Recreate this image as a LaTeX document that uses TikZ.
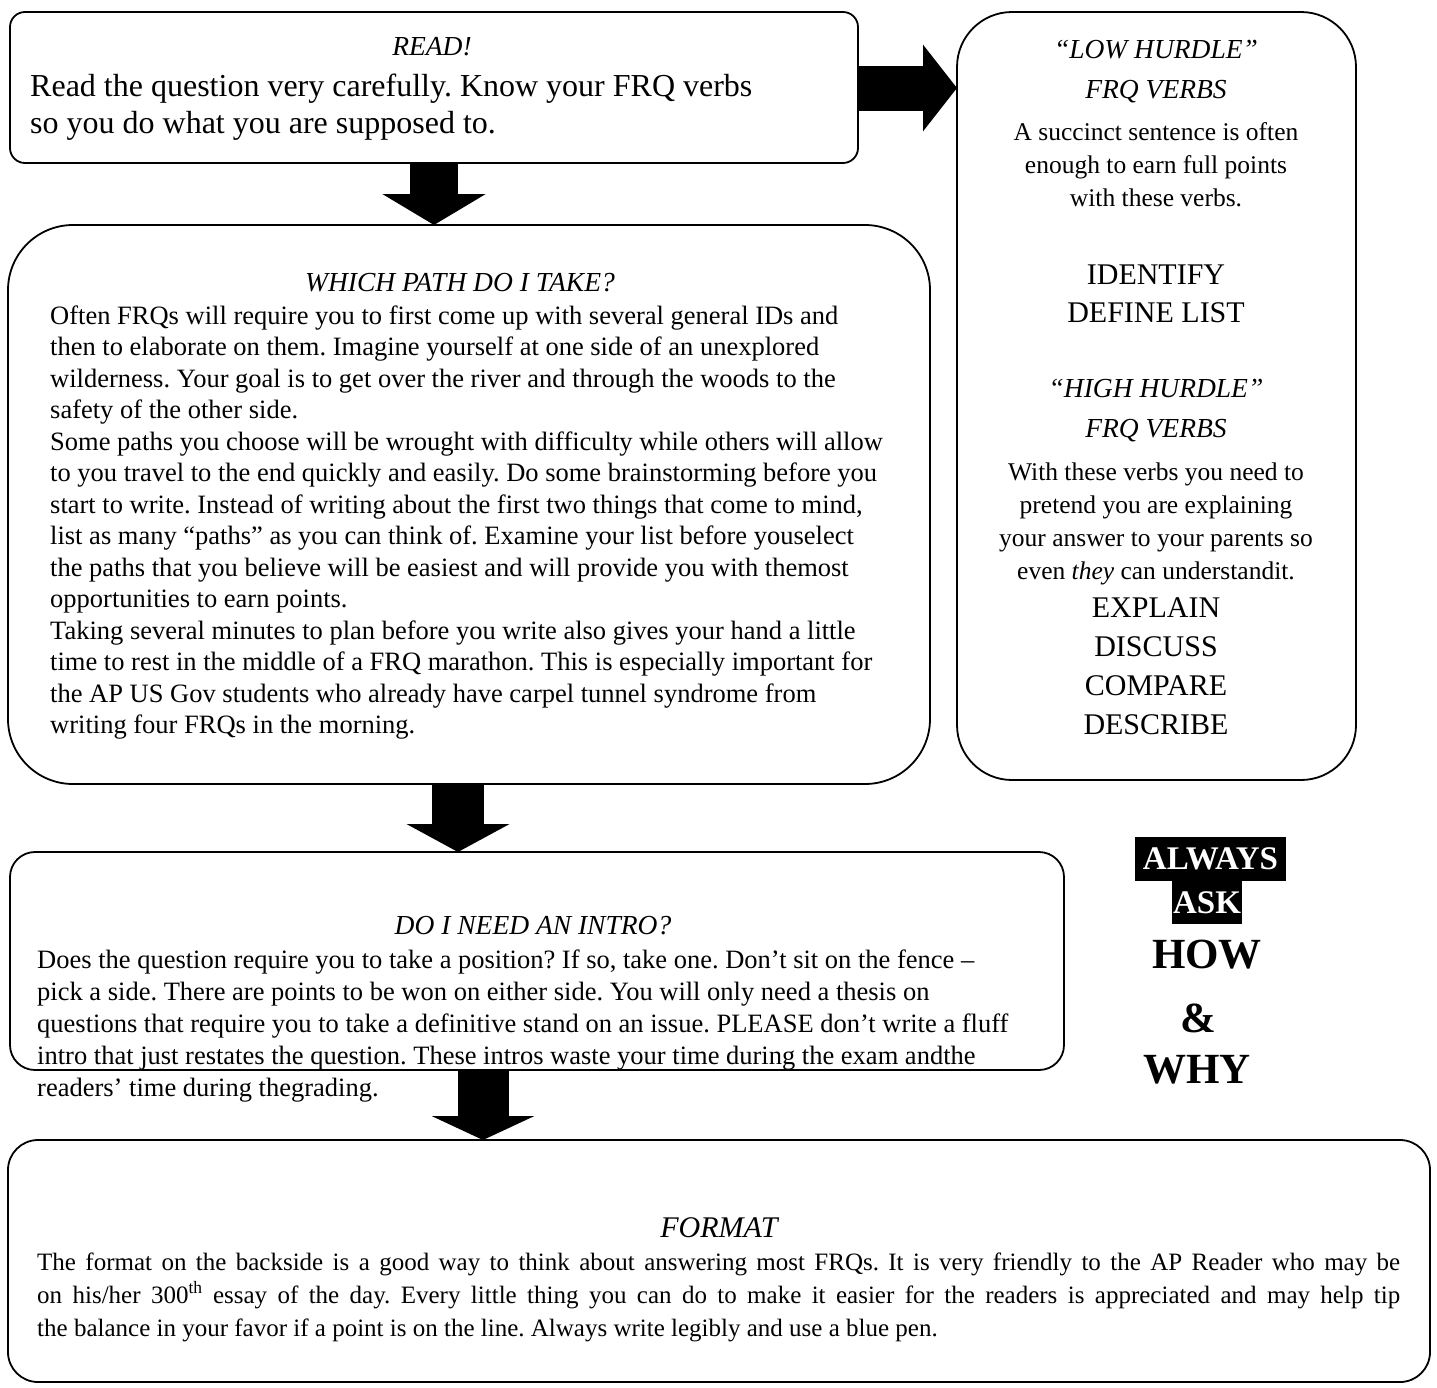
\documentclass[tikz,border=0pt]{standalone}
\usepackage{fontspec}
\setmainfont{Liberation Serif}
\usetikzlibrary{arrows.meta}
\frenchspacing

\tikzset{
  frqbox/.style={draw, line width=1.8pt, rectangle, inner sep=0pt, outer sep=0pt},
  boxtitle/.style={font=\fontsize{27.5}{40}\selectfont\itshape, align=center, inner sep=0pt, anchor=base},
  boxtext/.style={font=\fontsize{26.5}{31.5}\selectfont, align=left, inner sep=0pt, anchor=base west},
  verbtext/.style={font=\fontsize{25.5}{33}\selectfont, align=center, inner sep=0pt, anchor=base},
  verblist/.style={font=\fontsize{30}{38}\selectfont, align=center, inner sep=0pt, anchor=base},
  askbox/.style={fill=black, text=white, font=\fontsize{33}{34}\selectfont\bfseries, inner sep=0pt},
  askword/.style={font=\fontsize{43}{43}\selectfont\bfseries, inner sep=0pt, anchor=base},
}

\begin{document}
\begin{tikzpicture}[x=1pt,y=-1pt]
    \useasboundingbox (0,0) rectangle (1437,1387);

    % Boxes
    \node[frqbox, minimum width=848pt, minimum height=151pt, rounded corners=15pt] (read) at (434,87.5) {};
    \node[frqbox, minimum width=922pt, minimum height=559pt, rounded corners=65pt] (path) at (469,504.5) {};
    \node[frqbox, minimum width=399pt, minimum height=768pt, rounded corners=55pt] (verbs) at (1156.5,396) {};
    \node[frqbox, minimum width=1054pt, minimum height=218pt, rounded corners=25pt] (intro) at (537,961) {};
    \node[frqbox, minimum width=1422pt, minimum height=242pt, rounded corners=30pt] (format) at (719,1261) {};

    % Arrows
    \coordinate (a0) at (0,88);
    \coordinate (a1) at (434,0);
    \coordinate (a2) at (458,0);
    \coordinate (a3) at (483,0);
    \draw[line width=45pt, -{Triangle[width=85pt, length=34pt]}] (read.east |- a0) -- (verbs.west |- a0);
    \draw[line width=48pt, -{Triangle[width=102pt, length=31pt]}] (read.south -| a1) -- (path.north -| a1);
    \draw[line width=52pt, -{Triangle[width=102pt, length=28pt]}] (path.south -| a2) -- (intro.north -| a2);
    \draw[line width=51pt, -{Triangle[width=102pt, length=24pt]}] (intro.south -| a3) -- (format.north -| a3);

    % READ!
    \node[boxtitle] (readtitle) at (432,55) {READ!};
    \node[boxtext, font=\fontsize{32}{37}\selectfont] (readtext) at (30,133)
      {Read the question very carefully. Know your FRQ verbs\\
       so you do what you are supposed to.};

    % Which path
    \node[boxtitle] (pathtitle) at (460,291) {WHICH PATH DO I TAKE?};
    \node[boxtext] (pathtext) at (50,733.5)
      {Often FRQs will require you to first come up with several general IDs and\\
       then to elaborate on them. Imagine yourself at one side of an unexplored\\
       wilderness. Your goal is to get over the river and through the woods to the\\
       safety of the other side.\\
       Some paths you choose will be wrought with difficulty while others will allow\\
       to you travel to the end quickly and easily. Do some brainstorming before you\\
       start to write. Instead of writing about the first two things that come to mind,\\
       list as many “paths” as you can think of. Examine your list before youselect\\
       the paths that you believe will be easiest and will provide you with themost\\
       opportunities to earn points.\\
       Taking several minutes to plan before you write also gives your hand a little\\
       time to rest in the middle of a FRQ marathon. This is especially important for\\
       the AP US Gov students who already have carpel tunnel syndrome from\\
       writing four FRQs in the morning.};

    % Verbs
    \node[boxtitle] (lowtitle) at (1156,98) {“LOW HURDLE”\\FRQ VERBS};
    \node[verbtext] (lowtext) at (1156,206)
      {A succinct sentence is often\\enough to earn full points\\with these verbs.};
    \node[verblist] (lowlist) at (1156,322) {IDENTIFY\\DEFINE LIST};
    \node[boxtitle] (hightitle) at (1156,437) {“HIGH HURDLE”\\FRQ VERBS};
    \node[verbtext] (hightext) at (1156,579)
      {With these verbs you need to\\pretend you are explaining\\your answer to your parents so\\even \textit{they} can understandit.};
    \node[verblist, font=\fontsize{30}{39}\selectfont] (highlist) at (1156,734)
      {EXPLAIN\\DISCUSS\\COMPARE\\DESCRIBE};

    % Intro
    \node[boxtitle] (introtitle) at (533,934) {DO I NEED AN INTRO?};
    \node[boxtext, font=\fontsize{26.5}{32}\selectfont] (introtext) at (37,1096)
      {Does the question require you to take a position? If so, take one. Don’t sit on the fence –\\
       pick a side. There are points to be won on either side. You will only need a thesis on\\
       questions that require you to take a definitive stand on an issue. PLEASE don’t write a fluff\\
       intro that just restates the question. These intros waste your time during the exam andthe\\
       readers’ time during thegrading.};

    % Always ask
    \node[askbox, minimum width=151pt, minimum height=44pt] (always) at (1210.5,859) {ALWAYS};
    \node[askbox, minimum width=70pt, minimum height=43pt] (ask) at (1207,902.5) {ASK};
    \node[askword] (how) at (1207,968) {HOW};
    \node[askword] (amp) at (1198,1032) {\&};
    \node[askword] (why) at (1197,1083) {WHY};

    % Format
    \node[boxtitle, font=\fontsize{30}{40}\selectfont\itshape] (formattitle) at (719,1237) {FORMAT};
    \node[font=\fontsize{25}{33}\selectfont, text width=1363pt, align=justify, inner sep=0pt, anchor=base west] (formattext) at (37,1270)
      {The format on the backside is a good way to think about answering most FRQs. It is very friendly to the AP Reader who may be\linebreak
       on his/her 300\textsuperscript{th} essay of the day. Every little thing you can do to make it easier for the readers is appreciated and may help tip\linebreak
       the balance in your favor if a point is on the line. Always write legibly and use a blue pen.};
\end{tikzpicture}
\end{document}
